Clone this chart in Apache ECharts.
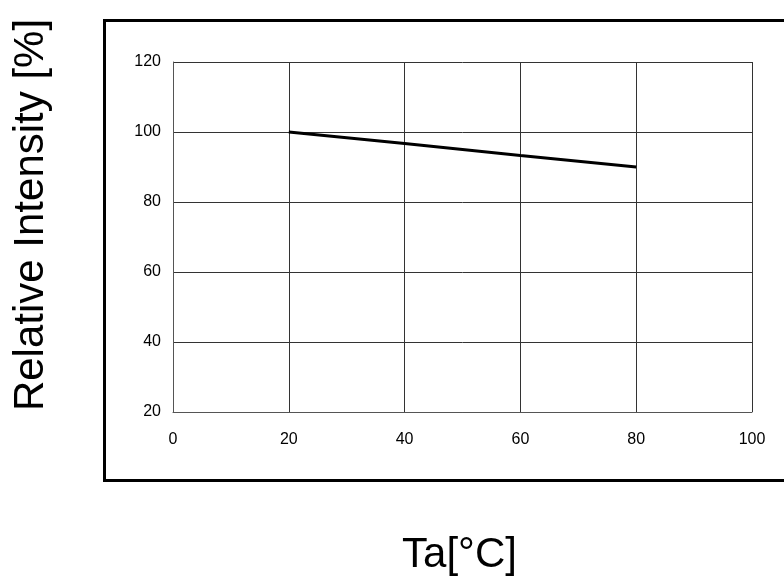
<!DOCTYPE html>
<html><head><meta charset="utf-8">
<script src="https://cdn.jsdelivr.net/npm/echarts@6/dist/echarts.min.js"></script>
<style>html,body{margin:0;padding:0;background:#fff;}#c{width:784px;height:583px;}</style>
</head><body><div id="c"></div>
<script>
var temperature = [20, 40, 60, 80];
var intensity = [100, 96.7, 93.3, 90];
var xTicks = [0, 20, 40, 60, 80, 100];
var yTicks = [20, 40, 60, 80, 100, 120];
var xTitle = 'Ta[°C]';
var yTitle = 'Relative Intensity [%]';

var FONT = '"Liberation Sans", Arial, sans-serif';
var chart = echarts.init(document.getElementById('c'));
chart.setOption({
  backgroundColor: '#fff',
  animation: false,
  grid: {left: 173, top: 62, width: 579, height: 350, containLabel: false},
  xAxis: {
    type: 'value', min: xTicks[0], max: xTicks[xTicks.length-1], interval: 20,
    axisLine: {show: true, lineStyle: {color: '#555', width: 1}},
    axisTick: {show: false},
    axisLabel: {color: '#000', fontSize: 16, fontFamily: FONT, margin: 20},
    splitLine: {show: true, lineStyle: {color: '#333', width: 1}}
  },
  yAxis: {
    type: 'value', min: yTicks[0], max: yTicks[yTicks.length-1], interval: 20,
    axisLine: {show: true, lineStyle: {color: '#555', width: 1}},
    axisTick: {show: false},
    axisLabel: {color: '#000', fontSize: 16, fontFamily: FONT, margin: 12},
    splitLine: {show: true, lineStyle: {color: '#333', width: 1}}
  },
  graphic: [
    {type: 'rect', shape: {x: 104.5, y: 20.5, width: 700, height: 460}, style: {fill: 'none', stroke: '#000', lineWidth: 3}, z: 100},
    {type: 'text', x: 31.5, y: 215, rotation: Math.PI/2, style: {text: yTitle, font: '42px ' + FONT, fill: '#000', textAlign: 'center', textVerticalAlign: 'middle'}},
    {type: 'text', x: 459.5, y: 555.5, style: {text: xTitle, font: '42px ' + FONT, fill: '#000', textAlign: 'center', textVerticalAlign: 'middle'}}
  ],
  series: [{
    type: 'line',
    data: temperature.map(function(t, i){ return [t, intensity[i]]; }),
    showSymbol: false,
    lineStyle: {color: '#000', width: 3},
    z: 10
  }]
});
</script></body></html>
